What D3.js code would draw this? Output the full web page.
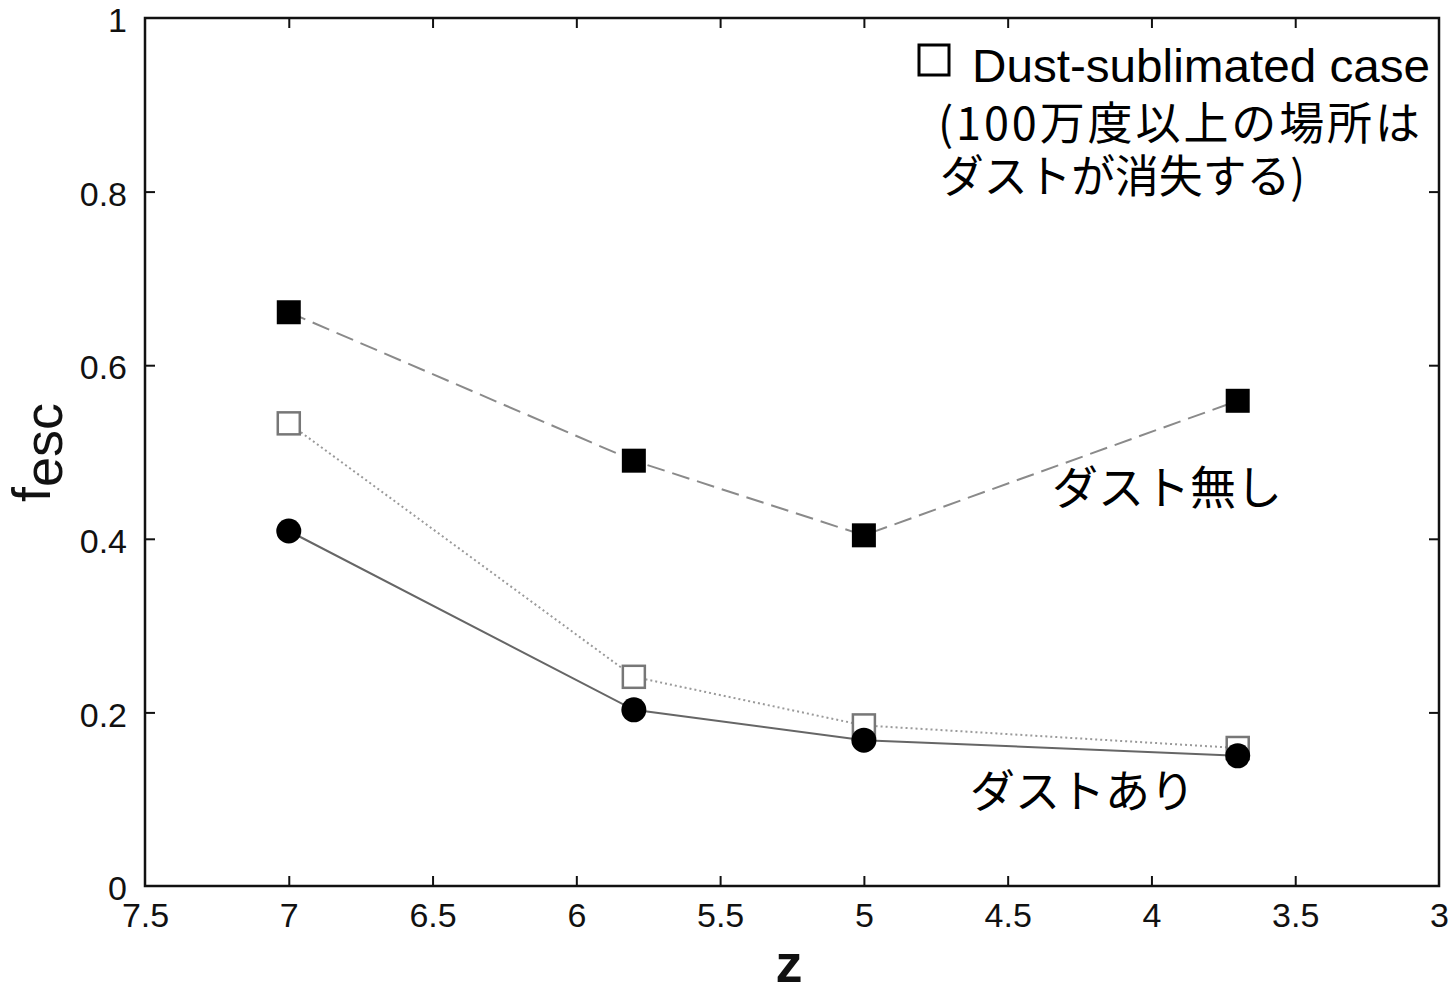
<!DOCTYPE html>
<html>
<head>
<meta charset="utf-8">
<script src="https://cdn.jsdelivr.net/npm/d3@7"></script>
<style>
  html, body { margin: 0; padding: 0; background: #fff; }
  svg { display: block; }
</style>
</head>
<body>
<svg id="chart" width="1456" height="993"></svg>
<script>
// ---- data ----
const redshift = [7, 5.8, 5, 3.7];
const noDust = [0.661, 0.490, 0.404, 0.559];          // filled squares, dashed
const dustSublimated = [0.533, 0.241, 0.185, 0.159];  // open squares, dotted
const withDust = [0.409, 0.203, 0.168, 0.150];        // filled circles, solid
const xTicks = [7.5, 7, 6.5, 6, 5.5, 5, 4.5, 4, 3.5, 3];
const yTicks = [0, 0.2, 0.4, 0.6, 0.8, 1];
const xTickLabels = ["7.5", "7", "6.5", "6", "5.5", "5", "4.5", "4", "3.5", "3"];
const yTickLabels = ["0", "0.2", "0.4", "0.6", "0.8", "1"];

const svg = d3.select("#chart");
const mLeft = 145, mRight = 1439, mTop = 18, mBottom = 886;

const x = d3.scaleLinear().domain([7.5, 3]).range([mLeft, mRight]);
const y = d3.scaleLinear().domain([0, 1]).range([mBottom, mTop]);

const font = "'Liberation Sans', Arial, Helvetica, sans-serif";
const jfont = "'Noto Sans CJK JP', 'Noto Sans', sans-serif";

// axes with inward ticks
const tickLen = 10;
const gB = svg.append("g").attr("transform", `translate(0,${mBottom})`)
  .call(d3.axisBottom(x).tickValues(xTicks).tickSizeInner(-tickLen).tickSizeOuter(0)
    .tickPadding(17).tickFormat((d, i) => xTickLabels[i]));
const gT = svg.append("g").attr("transform", `translate(0,${mTop})`)
  .call(d3.axisTop(x).tickValues(xTicks).tickSizeInner(-tickLen).tickSizeOuter(0).tickFormat(""));
const gL = svg.append("g").attr("transform", `translate(${mLeft},0)`)
  .call(d3.axisLeft(y).tickValues(yTicks).tickSizeInner(-tickLen).tickSizeOuter(0)
    .tickPadding(18).tickFormat((d, i) => yTickLabels[i]));
const gR = svg.append("g").attr("transform", `translate(${mRight},0)`)
  .call(d3.axisRight(y).tickValues(yTicks).tickSizeInner(-tickLen).tickSizeOuter(0).tickFormat(""));

[gB, gT, gL, gR].forEach(g => {
  g.select(".domain").remove();
  g.selectAll(".tick line").attr("stroke", "#111").attr("stroke-width", 2);
  g.selectAll(".tick text").attr("font-family", font).attr("font-size", 34).attr("fill", "#111");
});
gB.selectAll(".tick text").attr("dy", "0.71em");
gL.selectAll(".tick text").attr("dy", "0.4em");
// hide ticks at the frame corners
gB.selectAll(".tick line").filter(d => d === 7.5 || d === 3).remove();
gT.selectAll(".tick line").filter(d => d === 7.5 || d === 3).remove();
gL.selectAll(".tick line").filter(d => d === 0 || d === 1).remove();
gR.selectAll(".tick line").filter(d => d === 0 || d === 1).remove();

// frame
svg.append("rect").attr("x", mLeft).attr("y", mTop)
  .attr("width", mRight - mLeft).attr("height", mBottom - mTop)
  .attr("fill", "none").attr("stroke", "#111").attr("stroke-width", 2.5);

// lines
const line = d3.line().x((d, i) => x(redshift[i])).y(d => y(d));
svg.append("path").datum(noDust).attr("d", line)
  .attr("fill", "none").attr("stroke", "#8a8a8a").attr("stroke-width", 2)
  .attr("stroke-dasharray", "18,8");
svg.append("path").datum(dustSublimated).attr("d", line)
  .attr("fill", "none").attr("stroke", "#9a9a9a").attr("stroke-width", 2)
  .attr("stroke-dasharray", "2,3");
svg.append("path").datum(withDust).attr("d", line)
  .attr("fill", "none").attr("stroke", "#666").attr("stroke-width", 2);

// markers
const sq = 24;
svg.selectAll(".sqFilled").data(noDust).enter().append("rect")
  .attr("x", (d, i) => x(redshift[i]) - sq / 2).attr("y", d => y(d) - sq / 2)
  .attr("width", sq).attr("height", sq).attr("fill", "#000");
svg.selectAll(".sqOpen").data(dustSublimated).enter().append("rect")
  .attr("x", (d, i) => x(redshift[i]) - (sq - 2) / 2).attr("y", d => y(d) - (sq - 2) / 2)
  .attr("width", sq - 2).attr("height", sq - 2)
  .attr("fill", "#fff").attr("stroke", "#777").attr("stroke-width", 2.5);
svg.selectAll(".circ").data(withDust).enter().append("circle")
  .attr("cx", (d, i) => x(redshift[i])).attr("cy", d => y(d)).attr("r", 12.5)
  .attr("fill", "#000");

// axis titles
svg.append("text").attr("x", 789).attr("y", 982).attr("text-anchor", "middle")
  .attr("font-family", font).attr("font-weight", "bold").attr("font-size", 54)
  .attr("fill", "#111").text("z");
const yl = svg.append("text").attr("transform", "translate(50,502) rotate(-90)")
  .attr("font-family", font).attr("font-size", 54).attr("fill", "#111");
yl.append("tspan").text("f");
yl.append("tspan").attr("dy", 12).text("esc");

// legend / annotations
svg.append("rect").attr("x", 919).attr("y", 45).attr("width", 30).attr("height", 30)
  .attr("fill", "none").attr("stroke", "#000").attr("stroke-width", 3);
svg.append("text").attr("x", 972).attr("y", 82)
  .attr("font-family", font).attr("font-size", 47).attr("fill", "#000")
  .attr("textLength", 458).attr("lengthAdjust", "spacingAndGlyphs")
  .text("Dust-sublimated case");
svg.append("text").attr("x", 938).attr("y", 140)
  .attr("font-family", jfont).attr("font-size", 45).attr("fill", "#000")
  .attr("textLength", 482).attr("lengthAdjust", "spacing")
  .text("(100万度以上の場所は");
svg.append("text").attr("x", 940).attr("y", 193)
  .attr("font-family", jfont).attr("font-size", 45).attr("fill", "#000")
  .attr("textLength", 365).attr("lengthAdjust", "spacingAndGlyphs")
  .text("ダストが消失する)");
svg.append("text").attr("x", 1052).attr("y", 504)
  .attr("font-family", jfont).attr("font-size", 46).attr("fill", "#000")
  .text("ダスト無し");
svg.append("text").attr("x", 970).attr("y", 808)
  .attr("font-family", jfont).attr("font-size", 45).attr("fill", "#000")
  .text("ダストあり");
</script>
</body>
</html>
